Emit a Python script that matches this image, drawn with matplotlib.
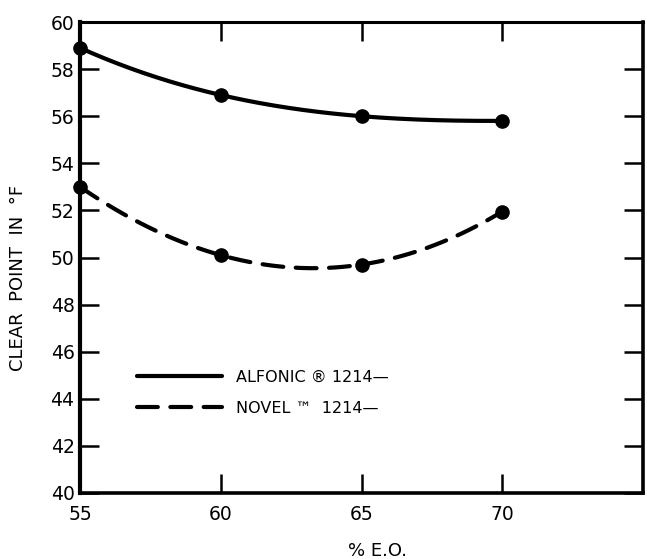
import numpy as np
import matplotlib
matplotlib.use("Agg")
import matplotlib.pyplot as plt

plt.rcParams['font.family'] = ['DejaVu Sans']
plt.rcParams['lines.scale_dashes'] = False

# Data
eo_pct = [55, 60, 65, 70]
alfonic = [58.9, 56.9, 56.0, 55.8]
novel = [53.0, 50.1, 49.7, 51.95]
x_ticks = [55, 60, 65, 70]
y_ticks = [40, 42, 44, 46, 48, 50, 52, 54, 56, 58, 60]
labels = ["ALFONIC \u00ae 1214\u2014", "NOVEL \u2122  1214\u2014"]

fig = plt.figure(figsize=(6.47, 5.59), dpi=100)
ax = fig.add_axes([80/647, 1-493/559, 563/647, 471/559])

xs = np.linspace(min(eo_pct), max(eo_pct), 200)
for vals, ls, lab in [(alfonic, '-', labels[0]), (novel, '--', labels[1])]:
    coef = np.polyfit(eo_pct, vals, 3)
    line, = ax.plot(xs, np.polyval(coef, xs), color='black', lw=3.0,
                    linestyle=ls, label=lab, solid_capstyle='round', dash_capstyle='round')
    if ls == '--':
        line.set_dashes((15, 9))
    ax.plot(eo_pct, vals, 'o', color='black', ms=9.5, clip_on=False, zorder=5)

ax.set_xlim(55, 75)
ax.set_ylim(40, 60)
ax.set_xticks(x_ticks)
ax.set_yticks(y_ticks)
ax.tick_params(axis='both', direction='in', length=14, width=1.8,
               labelsize=13.5, top=True, right=True, color='black')
ax.tick_params(axis='x', pad=9)
ax.tick_params(axis='y', pad=4)
for side, w in [('left', 3), ('bottom', 2.6), ('right', 2.6), ('top', 2.2)]:
    ax.spines[side].set_linewidth(w)

leg = ax.legend(loc='upper left', bbox_to_anchor=(0.101, 0.261), frameon=False,
                fontsize=11.5, handlelength=5.3, handletextpad=0.9,
                borderpad=0, borderaxespad=0, labelspacing=1.0)

fig.text(18/647, 1-278/559, "CLEAR  POINT  IN  \u00b0F", rotation=90,
         ha='center', va='center', fontsize=13)
fig.text(377/647, 1-551/559, "% E.O.", ha='center', va='center', fontsize=13)

fig.savefig("out.png", dpi=100)
